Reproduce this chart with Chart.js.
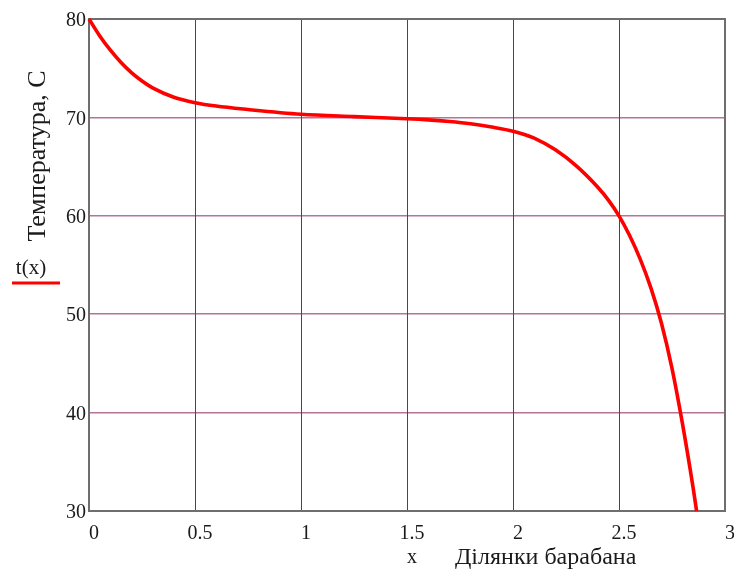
<!DOCTYPE html>
<html>
<head>
<meta charset="utf-8">
<title>t(x)</title>
<script src="https://cdn.jsdelivr.net/npm/chart.js@4/dist/chart.umd.min.js"></script>
<style>
  html, body { margin: 0; padding: 0; background: #fff; }
  canvas { display: block; }
</style>
</head>
<body>
<canvas id="chart" width="734" height="572"></canvas>
<script>
// === Data ===
const xValues = [0, 0.05, 0.1, 0.15, 0.2, 0.25, 0.3, 0.4, 0.5, 0.6, 0.75, 1, 1.25, 1.5, 1.6, 1.7, 1.8, 1.9, 2, 2.1, 2.2, 2.3, 2.4, 2.45, 2.5, 2.55, 2.6, 2.65, 2.7, 2.75, 2.8, 2.85, 2.866];
const tValues = [80, 78.3, 76.85, 75.6, 74.55, 73.7, 73.0, 72.05, 71.5, 71.15, 70.8, 70.32, 70.08, 69.87, 69.75, 69.58, 69.35, 69.02, 68.6, 67.9, 66.7, 65.05, 62.9, 61.6, 60.0, 58.0, 55.6, 52.7, 49.1, 44.5, 38.8, 32.3, 30.0];

const xTicks = [0, 0.5, 1, 1.5, 2, 2.5, 3];
const xTickLabels = ["0", "0.5", "1", "1.5", "2", "2.5", "3"];
const yTicks = [30, 40, 50, 60, 70, 80];
const yTickLabels = ["30", "40", "50", "60", "70", "80"];

const yTitle = "Температура, С";
const xTitle = "Ділянки барабана";
const xVarLabel = "x";
const seriesLabel = "t(x)";

const FONT = "'Liberation Serif', 'Times New Roman', serif";
const RED = "#ff0000";

// frame + labels drawn around the plot, Mathcad style
const framePlugin = {
  id: "frame",
  beforeDatasetsDraw(chart) {
    const { ctx, chartArea: a } = chart;
    ctx.save();
    ctx.strokeStyle = "#6e6e6e";
    ctx.lineWidth = 2;
    ctx.strokeRect(a.left, a.top, a.right - a.left, a.bottom - a.top);
    ctx.restore();
  },
  afterDraw(chart) {
    const ctx = chart.ctx;
    ctx.save();
    ctx.fillStyle = "#1a1a1a";

    // y title, rotated
    ctx.font = "26px " + FONT;
    ctx.textAlign = "center";
    ctx.textBaseline = "middle";
    ctx.translate(38, 156);
    ctx.rotate(-Math.PI / 2);
    ctx.fillText(yTitle, 0, 0);
    ctx.setTransform(1, 0, 0, 1, 0, 0);

    // series legend
    ctx.font = "21px " + FONT;
    ctx.textAlign = "center";
    ctx.fillText(seriesLabel, 31, 268);
    ctx.strokeStyle = RED;
    ctx.lineWidth = 3;
    ctx.beginPath();
    ctx.moveTo(12, 283);
    ctx.lineTo(60, 283);
    ctx.stroke();

    // x variable + x title
    ctx.font = "20px " + FONT;
    ctx.fillText(xVarLabel, 412, 558);
    ctx.font = "24px " + FONT;
    ctx.textAlign = "left";
    ctx.fillText(xTitle, 455, 558);
    ctx.restore();
  }
};

new Chart(document.getElementById("chart"), {
  type: "line",
  data: {
    datasets: [{
      label: seriesLabel,
      data: xValues.map((x, i) => ({ x: x, y: tValues[i] })),
      borderColor: RED,
      borderWidth: 3.6,
      pointRadius: 0,
      cubicInterpolationMode: "monotone",
      fill: false,
      clip: 6
    }]
  },
  options: {
    responsive: false,
    animation: false,
    layout: { padding: { top: 19, right: 9, left: 0, bottom: 0 } },
    plugins: { legend: { display: false }, tooltip: { enabled: false } },
    scales: {
      x: {
        type: "linear",
        min: 0, max: 3,
        afterBuildTicks: s => { s.ticks = xTicks.map(v => ({ value: v })); },
        afterFit: s => { s.height = 61; s.paddingLeft = 0; s.paddingRight = 0; },
        border: { display: false },
        grid: { color: "#84265a", lineWidth: 1, drawTicks: false },
        ticks: {
          padding: 11,
          labelOffset: 5,
          color: "#1a1a1a",
          font: { family: FONT, size: 20 },
          maxRotation: 0,
          callback: v => xTickLabels[xTicks.indexOf(v)]
        }
      },
      y: {
        type: "linear",
        min: 30, max: 80,
        afterBuildTicks: s => { s.ticks = yTicks.map(v => ({ value: v })); },
        afterFit: s => { s.width = 89; s.paddingTop = 0; s.paddingBottom = 0; },
        border: { display: false },
        grid: { color: "rgba(140,40,95,0.65)", lineWidth: 1.6, drawTicks: false },
        ticks: {
          padding: 3,
          labelOffset: 2,
          color: "#1a1a1a",
          font: { family: FONT, size: 20 },
          callback: v => yTickLabels[yTicks.indexOf(v)]
        }
      }
    }
  },
  plugins: [framePlugin]
});
</script>
</body>
</html>
